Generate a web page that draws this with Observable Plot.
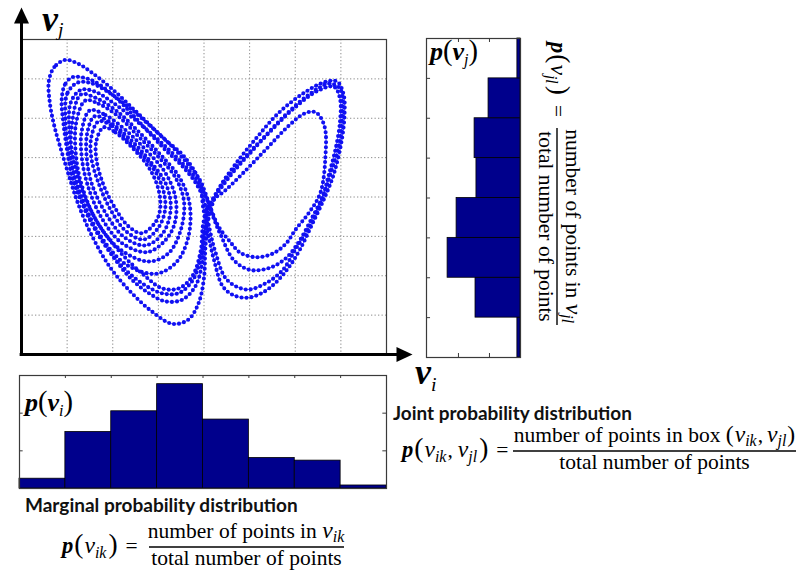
<!DOCTYPE html>
<html><head><meta charset="utf-8">
<script src="https://cdn.jsdelivr.net/npm/d3@7"></script>
<script src="https://cdn.jsdelivr.net/npm/@observablehq/plot@0.6"></script>
<style>
html,body{margin:0;padding:0;background:#fff;}
#root{position:relative;width:799px;height:574px;overflow:hidden;background:#fff;}
#root > svg{position:absolute;}
</style></head><body><div id="root"></div>
<script>
// ---------------- data ----------------
const binEdges = [0,1,2,3,4,5,6,7,8];
const gridTicks = [1,2,3,4,5,6,7];
// marginal distribution of v_i (bottom histogram), one value per bin
const viProb = [0.26,1.5,2.05,2.77,1.83,0.81,0.74,0.08];
const viTicks = [1,2];
// marginal distribution of v_j (right histogram), bins from bottom to top
const vjProb = [0.1,1.45,2.35,2.06,1.42,1.48,1.03,0.1];
const vjTicks = [1,2];

const loopG = [[1.8,5.77],[2.06,5.64],[2.42,5.26],[2.79,4.75],[3.0,4.2],[3.04,3.7],[2.93,3.35],[2.64,3.08],[2.35,3.25],[2.05,3.72],[1.8,4.3],[1.65,4.9],[1.64,5.42]];
const loopF = [[1.69,5.92],[1.99,5.8],[2.42,5.32],[2.86,4.78],[3.1,4.2],[3.15,3.7],[3.0,3.22],[2.68,2.92],[2.3,3.12],[1.95,3.68],[1.68,4.38],[1.53,5.0],[1.53,5.52]];
const loopE = [[1.6,6.05],[1.91,5.92],[2.35,5.5],[2.79,4.95],[3.17,4.32],[3.27,3.7],[3.1,3.08],[2.72,2.77],[2.25,2.98],[1.85,3.58],[1.55,4.3],[1.43,5.0],[1.44,5.62]];
const loopD = [[1.5,6.2],[1.84,6.08],[2.28,5.7],[2.72,5.2],[3.15,4.62],[3.38,3.95],[3.35,3.3],[3.12,2.86],[2.75,2.6],[2.2,2.83],[1.75,3.48],[1.45,4.3],[1.32,5.02],[1.32,5.68]];
const loopC = [[1.4,6.45],[1.69,6.37],[2.13,6.04],[2.57,5.53],[3.0,5.02],[3.37,4.5],[3.56,3.9],[3.5,3.2],[3.23,2.58],[2.79,2.36],[2.15,2.68],[1.65,3.38],[1.32,4.3],[1.19,5.1],[1.2,5.9]];
const loopH = [[1.3,6.6],[1.62,6.52],[2.1,6.17],[2.6,5.62],[3.05,5.07],[3.45,4.52],[3.68,3.85],[3.66,3.0],[3.4,2.35],[2.95,2.05],[2.3,2.28],[1.75,2.98],[1.35,3.9],[1.12,4.8],[1.1,5.8]];
const wing1 = [[0.96,7.48],[0.72,7.3],[0.6,6.95],[0.62,6.4],[0.72,5.8],[0.88,5.15],[1.05,4.5],[1.25,3.8],[1.55,3.0],[1.95,2.2],[2.4,1.58],[2.85,1.1],[3.3,0.78],[3.65,0.88],[3.88,1.3],[4.0,1.95],[4.03,2.7],[4.1,3.45],[4.3,4.15],[4.68,4.82],[5.15,5.5],[5.65,6.15],[6.2,6.65],[6.65,6.92],[6.92,6.93],[7.06,6.6],[7.08,6.1],[7.02,5.45],[6.85,4.6],[6.65,4.0],[6.38,3.33],[6.1,2.66],[5.85,2.2],[5.55,1.8],[5.25,1.55],[4.94,1.44],[4.62,1.52],[4.4,1.75],[4.22,2.4],[4.1,3.0],[3.98,3.75],[3.9,4.4],[3.55,5.05],[3.15,5.45],[2.75,5.9],[2.35,6.35],[1.95,6.78],[1.55,7.15],[1.25,7.38]];
const wing2 = [[1.11,7.04],[0.95,6.85],[0.88,6.45],[0.92,5.86],[1.0,5.18],[1.11,4.5],[1.27,4.0],[1.62,3.16],[2.06,2.4],[2.42,1.9],[2.79,1.56],[3.15,1.35],[3.52,1.39],[3.81,1.73],[3.96,2.32],[4.0,3.0],[4.1,3.7],[4.38,4.3],[4.85,4.95],[5.3,5.5],[5.8,6.1],[6.3,6.6],[6.75,6.88],[6.98,6.75],[7.03,6.2],[6.97,5.4],[6.75,4.5],[6.6,4.0],[6.31,3.24],[6.0,2.66],[5.73,2.15],[5.37,1.82],[4.94,1.65],[4.5,1.9],[4.25,2.6],[4.12,3.2],[4.0,3.9],[3.85,4.3],[3.55,4.75],[3.15,5.2],[2.79,5.64],[2.42,6.11],[2.06,6.53],[1.69,6.87],[1.4,7.02]];
const wing3 = [[1.3,6.72],[1.08,6.4],[1.05,5.7],[1.15,4.9],[1.35,4.1],[1.72,3.25],[2.2,2.55],[2.7,2.0],[3.08,1.68],[3.45,1.68],[3.75,2.0],[3.93,2.65],[3.98,3.3],[4.12,3.85],[4.45,4.15],[4.85,4.6],[5.35,5.2],[5.85,5.8],[6.2,6.12],[6.45,6.15],[6.64,5.8],[6.66,5.0],[6.55,4.1],[6.3,3.6],[6.0,3.16],[5.8,2.82],[5.52,2.57],[5.16,2.47],[4.8,2.58],[4.58,2.85],[4.32,3.25],[4.15,3.7],[4.0,4.1],[3.8,4.5],[3.45,4.95],[3.0,5.45],[2.5,5.95],[2.0,6.4],[1.6,6.68]];
const wing4 = [[1.22,6.9],[1.0,6.62],[0.96,6.0],[1.03,5.2],[1.18,4.4],[1.42,3.6],[1.83,2.8],[2.28,2.15],[2.72,1.75],[3.1,1.55],[3.45,1.56],[3.75,1.88],[3.94,2.5],[4.02,3.15],[4.18,3.85],[4.55,4.5],[5.0,5.1],[5.5,5.72],[6.0,6.28],[6.5,6.7],[6.85,6.8],[6.98,6.5],[6.98,5.9],[6.88,5.2],[6.72,4.5],[6.6,4.0],[6.38,3.5],[6.1,2.9],[5.8,2.45],[5.44,2.2],[5.0,2.15],[4.65,2.4],[4.38,3.0],[4.2,3.5],[4.03,4.1],[3.9,4.45],[3.6,4.9],[3.2,5.4],[2.75,5.88],[2.3,6.33],[1.85,6.7],[1.5,6.9]];

// ---------------- tables ----------------
const loops = {G: loopG, F: loopF, E: loopE, D: loopD, C: loopC, H: loopH, W1: wing1, W2: wing2, W3: wing3, W4: wing4};
const traj = Object.entries(loops).flatMap(([id, pts]) => pts.map(([x, y]) => ({id, x, y})));
const viBins = viProb.map((p, i) => ({lo: binEdges[i], hi: binEdges[i + 1], p}));
const vjBins = vjProb.map((p, i) => ({lo: binEdges[i], hi: binEdges[i + 1], p}));

const NAVY = "#00008c";
const BLUE = "#1010f2";
const FRAME = "#3a3a3a";
const root = document.getElementById("root");

// filled arrow-head symbols with the tip at the anchor point
const arrowUp = {draw(ctx) { ctx.moveTo(0, 0); ctx.lineTo(7.5, 16); ctx.lineTo(-7.5, 16); ctx.closePath(); }};
const arrowRight = {draw(ctx) { ctx.moveTo(0, 0); ctx.lineTo(-16, 7.5); ctx.lineTo(-16, -7.5); ctx.closePath(); }};
const axisTip = [{x: 0, y: 8.81, s: "up"}, {x: 8.57, y: 0, s: "right"}];

// ---------------- main phase portrait ----------------
const main = Plot.plot({
  width: 420, height: 370,
  marginLeft: 21, marginRight: 34, marginTop: 39, marginBottom: 16,
  x: {domain: [0, 8], axis: null},
  y: {domain: [0, 8], axis: null},
  marks: [
    Plot.ruleX(gridTicks, {stroke: "#8c8c8c", strokeDasharray: "1.3,2.2", strokeWidth: 1}),
    Plot.ruleY(gridTicks, {stroke: "#8c8c8c", strokeDasharray: "1.3,2.2", strokeWidth: 1}),
    Plot.frame({stroke: FRAME, strokeWidth: 1.2}),
    Plot.line(traj, {x: "x", y: "y", z: "id", curve: "catmull-rom-closed", stroke: "#5c5cff", strokeWidth: 1}),
    Plot.line(traj, {x: "x", y: "y", z: "id", curve: "catmull-rom-closed", stroke: BLUE, strokeWidth: 4.1, strokeDasharray: "0 5", strokeLinecap: "round"}),
    Plot.ruleX([0], {y1: -0.02, y2: 8.45, stroke: "black", strokeWidth: 3}),
    Plot.ruleY([0], {x1: -0.03, x2: 8.25, stroke: "black", strokeWidth: 3}),
    Plot.dot(axisTip.filter(d => d.s === "up"), {x: "x", y: "y", symbol: arrowUp, fill: "black", stroke: "none", r: 6}),
    Plot.dot(axisTip.filter(d => d.s === "right"), {x: "x", y: "y", symbol: arrowRight, fill: "black", stroke: "none", r: 6})
  ]
});
main.style.left = "0px"; main.style.top = "0px";
root.appendChild(main);

// ---------------- right histogram: p(v_j) ----------------
const right = Plot.plot({
  width: 110, height: 335,
  marginLeft: 6, marginRight: 10, marginTop: 8, marginBottom: 8,
  x: {domain: [0, 3.03], reverse: true, axis: null},
  y: {domain: [0, 8], axis: null},
  marks: [
    Plot.ruleY(gridTicks, {x1: 3.03, x2: 2.9, stroke: FRAME, strokeWidth: 1}),
    Plot.ruleX(vjTicks, {y1: 0, y2: 0.1, stroke: FRAME, strokeWidth: 1}),
    Plot.ruleX(vjTicks, {y1: 8, y2: 7.9, stroke: FRAME, strokeWidth: 1}),
    Plot.rect(vjBins, {x1: 0, x2: "p", y1: "lo", y2: "hi", fill: NAVY, stroke: "black", strokeWidth: 0.8}),
    Plot.frame({stroke: FRAME, strokeWidth: 1.2})
  ]
});
right.style.left = "420px"; right.style.top = "30px";
root.appendChild(right);

// ---------------- bottom histogram: p(v_i) ----------------
const bottom = Plot.plot({
  width: 400, height: 125,
  marginLeft: 19, marginRight: 14, marginTop: 7, marginBottom: 5,
  x: {domain: [0, 8], axis: null},
  y: {domain: [0, 3.0], axis: null},
  marks: [
    Plot.ruleY(viTicks, {x1: 0, x2: 0.08, stroke: FRAME, strokeWidth: 1}),
    Plot.ruleY(viTicks, {x1: 8, x2: 7.92, stroke: FRAME, strokeWidth: 1}),
    Plot.ruleX(gridTicks, {y1: 3.0, y2: 2.92, stroke: FRAME, strokeWidth: 1}),
    Plot.rect(viBins, {x1: "lo", x2: "hi", y1: 0, y2: "p", fill: NAVY, stroke: "black", strokeWidth: 0.8}),
    Plot.frame({stroke: FRAME, strokeWidth: 1.2})
  ]
});
bottom.style.left = "0px"; bottom.style.top = "368px";
root.appendChild(bottom);

// ---------------- text overlay ----------------
const SERIF = "'Liberation Serif', 'DejaVu Serif', serif";
const SANS = "Lato, 'Open Sans', 'Liberation Sans', sans-serif";
const ov = d3.select(root).append("svg")
  .attr("width", 799).attr("height", 574)
  .style("left", "0px").style("top", "0px").style("pointer-events", "none");

// parts: [text, style ("b","i","bi","r"), subscript?, size scale, extra space before (px)]
function mtext(parent, x, y, size, parts, opts = {}) {
  const subScale = opts.subScale ?? 0.68, subShift = opts.subShift ?? 0.22;
  const t = parent.append("text").attr("x", x).attr("y", y)
    .attr("font-family", SERIF).attr("font-size", size)
    .attr("text-anchor", "start").style("white-space", "pre");
  let shift = 0;
  for (const [str, st, sub, scale, gap] of parts) {
    const ts = t.append("tspan").text(str);
    const target = sub ? size * subShift : 0;
    if (target !== shift) { ts.attr("dy", target - shift); shift = target; }
    const fs = (sub ? size * subScale : size) * (scale || 1);
    if (fs !== size) ts.attr("font-size", fs);
    if (gap) ts.attr("dx", gap);
    if (st.includes("b")) ts.attr("font-weight", "bold");
    if (st.includes("i")) ts.attr("font-style", "italic");
  }
  if (opts.center !== undefined) {
    const bb = t.node().getBBox();
    t.attr("x", x + opts.center - (bb.x + bb.width / 2));
  }
  return t;
}
function formula(g, x, yBar, size, lhs, num, den, barX0, barX1) {
  const o = {subScale: 0.74, subShift: 0.24};
  mtext(g, x, yBar + size * 0.26, size, lhs, o);
  const cx = (barX0 + barX1) / 2;
  mtext(g, 0, yBar - 9, size, num, {subScale: 0.74, subShift: 0.17, center: cx});
  mtext(g, 0, yBar + 18, size, den, {...o, center: cx});
  g.append("line").attr("x1", barX0).attr("x2", barX1).attr("y1", yBar).attr("y2", yBar)
    .attr("stroke", "black").attr("stroke-width", 1.4);
}
function fitText(parent, x, y, str, width, size) {
  const t = parent.append("text").attr("x", x).attr("y", y).attr("font-family", SANS)
    .attr("font-weight", "bold").attr("font-size", size).attr("fill", "#111").text(str);
  const w = t.node().getComputedTextLength();
  if (w > 0) t.attr("font-size", size * width / w);
  return t;
}

// axis labels
mtext(ov, 42, 31, 36, [["v", "bi"], ["j", "i", true]], {subScale: 0.55, subShift: 0.15});
mtext(ov, 415, 384, 36, [["v", "bi"], ["i", "i", true]], {subScale: 0.55, subShift: 0.2});
// histogram labels
mtext(ov, 430, 60, 26, [["p", "bi"], ["(", "r", false, 1.1], ["v", "bi"], ["j", "i", true], [")", "r", false, 1.1]], {subScale: 0.62, subShift: 0.2});
mtext(ov, 25, 411, 26, [["p", "bi"], ["(", "r", false, 1.1], ["v", "bi"], ["i", "i", true], [")", "r", false, 1.1]], {subScale: 0.62, subShift: 0.2});

// section titles
fitText(ov, 393, 420, "Joint probability distribution", 239, 17);
fitText(ov, 25, 512, "Marginal probability distribution", 273, 17);

// formulas
const FS = 21.5;
const P = 1.28;   // enlarged parentheses
const V = 1.1;    // math italic v
formula(ov, 402, 451, FS,
  [["p", "bi", false, 1.05], ["(", "r", false, P, 1], ["v", "i", false, V, 1], ["ik", "i", true], [",", "r", false, 1, 1], ["v", "i", false, V, 5], ["jl", "i", true], [")", "r", false, P, 2], ["=", "r", false, 1, 8]],
  [["number of points in box ", "r"], ["(", "r", false, 1.1], ["v", "i", false, V, 1], ["ik", "i", true], [",", "r", false, 1, 1], ["v", "i", false, V, 4], ["jl", "i", true], [")", "r", false, 1.1, 1]],
  [["total number of points", "r"]], 513, 796);
formula(ov, 62, 547, FS,
  [["p", "bi", false, 1.05], ["(", "r", false, P, 1], ["v", "i", false, V, 1], ["ik", "i", true], [")", "r", false, P, 2], ["=", "r", false, 1, 8]],
  [["number of points in ", "r"], ["v", "i", false, V], ["ik", "i", true]],
  [["total number of points", "r"]], 149, 344);
const rot = ov.append("g").attr("transform", "translate(557,0) rotate(90)");
formula(rot, 42, 0, FS,
  [["p", "bi", false, 1.05], ["(", "r", false, P, 1], ["v", "i", false, V, 1], ["jl", "i", true], [")", "r", false, P, 2], ["=", "r", false, 1, 10]],
  [["number of points in ", "r"], ["v", "i", false, V], ["jl", "i", true]],
  [["total number of points", "r"]], 128, 325);
</script></body></html>
